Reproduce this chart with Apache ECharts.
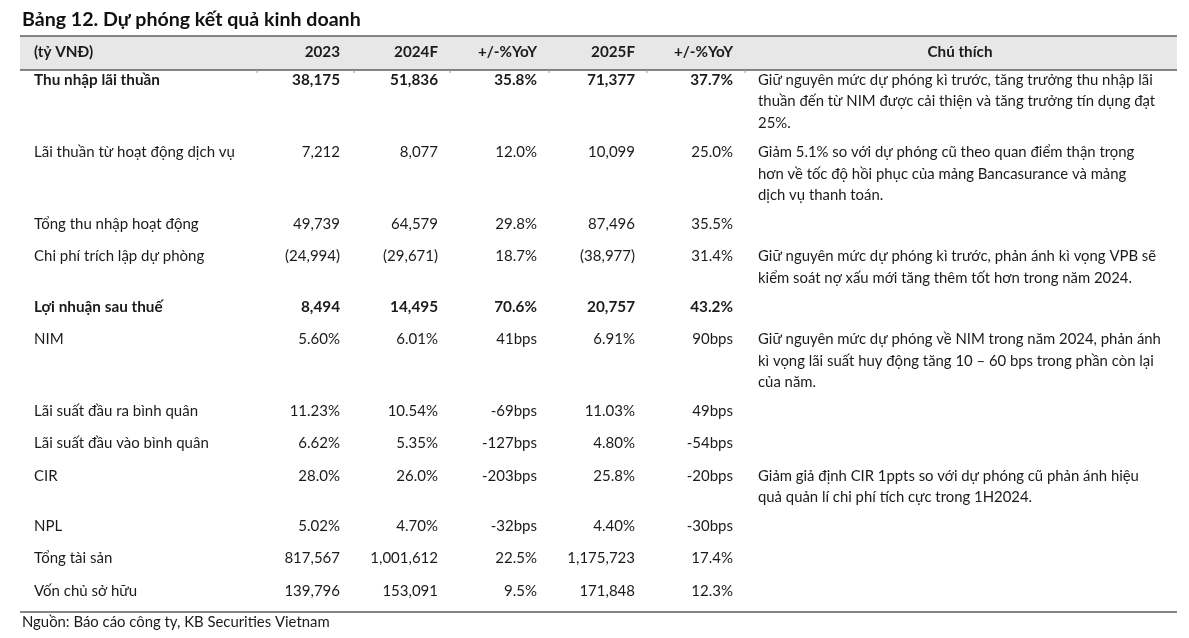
<!DOCTYPE html>
<html>
<head>
<meta charset="utf-8">
<script src="https://cdn.jsdelivr.net/npm/echarts@6/dist/echarts.min.js"></script>
<style>
html,body{margin:0;padding:0;background:#fff;}
#c{width:1189px;height:638px;}
</style>
</head>
<body>
<div id="c"></div>
<script>
// ---------- DATA ----------
const title = 'Bảng 12. Dự phóng kết quả kinh doanh';
const source = 'Nguồn: Báo cáo công ty, KB Securities Vietnam';
const headers = ['(tỷ VNĐ)', '2023', '2024F', '+/-%YoY', '2025F', '+/-%YoY', 'Chú thích'];
const labels = ['Thu nhập lãi thuần', 'Lãi thuần từ hoạt động dịch vụ', 'Tổng thu nhập hoạt động',
  'Chi phí trích lập dự phòng', 'Lợi nhuận sau thuế', 'NIM', 'Lãi suất đầu ra bình quân',
  'Lãi suất đầu vào bình quân', 'CIR', 'NPL', 'Tổng tài sản', 'Vốn chủ sở hữu'];
const boldRows = [true, false, false, false, true, false, false, false, false, false, false, false];
const v2023 = ['38,175', '7,212', '49,739', '(24,994)', '8,494', '5.60%', '11.23%', '6.62%', '28.0%', '5.02%', '817,567', '139,796'];
const v2024F = ['51,836', '8,077', '64,579', '(29,671)', '14,495', '6.01%', '10.54%', '5.35%', '26.0%', '4.70%', '1,001,612', '153,091'];
const yoy2024 = ['35.8%', '12.0%', '29.8%', '18.7%', '70.6%', '41bps', '-69bps', '-127bps', '-203bps', '-32bps', '22.5%', '9.5%'];
const v2025F = ['71,377', '10,099', '87,496', '(38,977)', '20,757', '6.91%', '11.03%', '4.80%', '25.8%', '4.40%', '1,175,723', '171,848'];
const yoy2025 = ['37.7%', '25.0%', '35.5%', '31.4%', '43.2%', '90bps', '49bps', '-54bps', '-20bps', '-30bps', '17.4%', '12.3%'];
const notes = [
  ['Giữ nguyên mức dự phóng kì trước, tăng trưởng thu nhập lãi', 'thuần đến từ NIM được cải thiện và tăng trưởng tín dụng đạt', '25%.'],
  ['Giảm 5.1% so với dự phóng cũ theo quan điểm thận trọng', 'hơn về tốc độ hồi phục của mảng Bancasurance và mảng', 'dịch vụ thanh toán.'],
  [],
  ['Giữ nguyên mức dự phóng kì trước, phản ánh kì vọng VPB sẽ', 'kiểm soát nợ xấu mới tăng thêm tốt hơn trong năm 2024.'],
  [],
  ['Giữ nguyên mức dự phóng về NIM trong năm 2024, phản ánh', 'kì vọng lãi suất huy động tăng 10 – 60 bps trong phần còn lại', 'của năm.'],
  [],
  [],
  ['Giảm giả định CIR 1ppts so với dự phóng cũ phản ánh hiệu', 'quả quản lí chi phí tích cực trong 1H2024.'],
  [],
  [],
  []
];

// ---------- LAYOUT ----------
const FAM = 'Lato, "Noto Sans", sans-serif';
const cv = document.createElement('canvas').getContext('2d');
function fit(text, weight, target) {
  cv.font = weight + ' 100px ' + FAM;
  const w = cv.measureText(text).width;
  return Math.max(10, Math.min(24, 100 * target / w));
}
const titleSize = fit(title, 'bold', 339);
const bodySize = fit(labels[1], 'normal', 201);
const noteSize = fit(notes[0][0], 'normal', 395);
const boldSize = fit(labels[0], 'bold', 126);
const srcSize = fit(source, 'normal', 308);
const headSize = fit(headers[6], 'bold', 65);

const LINE_H = 21.7;
const rowH = notes.map(n => Math.max(32.3, n.length * LINE_H + 7));
const rowY = [];
let acc = 0;
rowH.forEach((h, i) => { rowY.push(acc); acc += h; });

const TOP = 80;
const colRight = [340, 438, 537, 635, 733];
const LABEL_X = 34, NOTE_X = 758;
const TEXT = '#1b1b1b';

const chart = echarts.init(document.getElementById('c'), null, {renderer: 'canvas'});

const headerGraphics = [
  {type: 'rect', shape: {x: 20, y: 36, width: 1157, height: 34}, style: {fill: '#e7e7e7'}, silent: true},
  {type: 'line', shape: {x1: 20, y1: 36, x2: 1177, y2: 36}, style: {stroke: '#5e5e5e', lineWidth: 1.5}},
  {type: 'line', shape: {x1: 20, y1: 70, x2: 1177, y2: 70}, style: {stroke: '#5e5e5e', lineWidth: 1.5}},
  {type: 'line', shape: {x1: 20, y1: 612, x2: 1177, y2: 612}, style: {stroke: '#5e5e5e', lineWidth: 1.5}},
  {type: 'text', style: {text: title, x: 22, y: 20, textVerticalAlign: 'middle', font: 'bold ' + titleSize + 'px ' + FAM, fill: '#111'}},
  {type: 'text', style: {text: source, x: 22, y: 622, textVerticalAlign: 'middle', font: srcSize + 'px ' + FAM, fill: TEXT}},
  {type: 'text', style: {text: headers[0], x: LABEL_X, y: 52, textVerticalAlign: 'middle', font: 'bold ' + headSize + 'px ' + FAM, fill: TEXT}},
  {type: 'text', style: {text: headers[6], x: 960, y: 52, textAlign: 'center', textVerticalAlign: 'middle', font: 'bold ' + headSize + 'px ' + FAM, fill: TEXT}}
];
for (let k = 0; k < 5; k++) {
  headerGraphics.push({type: 'text', style: {text: headers[k + 1], x: colRight[k], y: 52, textAlign: 'right', textVerticalAlign: 'middle', font: 'bold ' + headSize + 'px ' + FAM, fill: TEXT}});
}
[257, 354, 450, 549, 647, 745].forEach(x => {
  headerGraphics.push({type: 'line', shape: {x1: x, y1: 70, x2: x, y2: 73}, style: {stroke: '#9a9a9a', lineWidth: 1}});
});

const rowData = labels.map((l, i) => [i, rowY[i]]);

chart.setOption({
  animation: false,
  grid: {left: 0, right: 0, top: TOP, height: 540},
  xAxis: {type: 'value', min: 0, max: 1189, show: false},
  yAxis: {type: 'value', min: 0, max: 540, inverse: true, show: false},
  graphic: headerGraphics,
  series: [{
    type: 'custom',
    data: rowData,
    renderItem: function (params, api) {
      const i = api.value(0);
      const y = api.coord([0, api.value(1)])[1];
      const bold = boldRows[i];
      const f = (bold ? 'bold ' + boldSize : bodySize) + 'px ' + FAM;
      const ch = [];
      ch.push({type: 'text', style: {text: labels[i], x: api.coord([LABEL_X, 0])[0], y: y, textVerticalAlign: 'middle', font: f, fill: TEXT}});
      const vals = [v2023[i], v2024F[i], yoy2024[i], v2025F[i], yoy2025[i]];
      vals.forEach((v, k) => {
        ch.push({type: 'text', style: {text: v, x: api.coord([colRight[k], 0])[0], y: y, textAlign: 'right', textVerticalAlign: 'middle', font: f, fill: TEXT}});
      });
      notes[i].forEach((ln, j) => {
        ch.push({type: 'text', style: {text: ln, x: api.coord([NOTE_X, 0])[0], y: y + j * LINE_H, textVerticalAlign: 'middle', font: noteSize + 'px ' + FAM, fill: TEXT}});
      });
      return {type: 'group', children: ch};
    }
  }]
});
</script>
</body>
</html>
